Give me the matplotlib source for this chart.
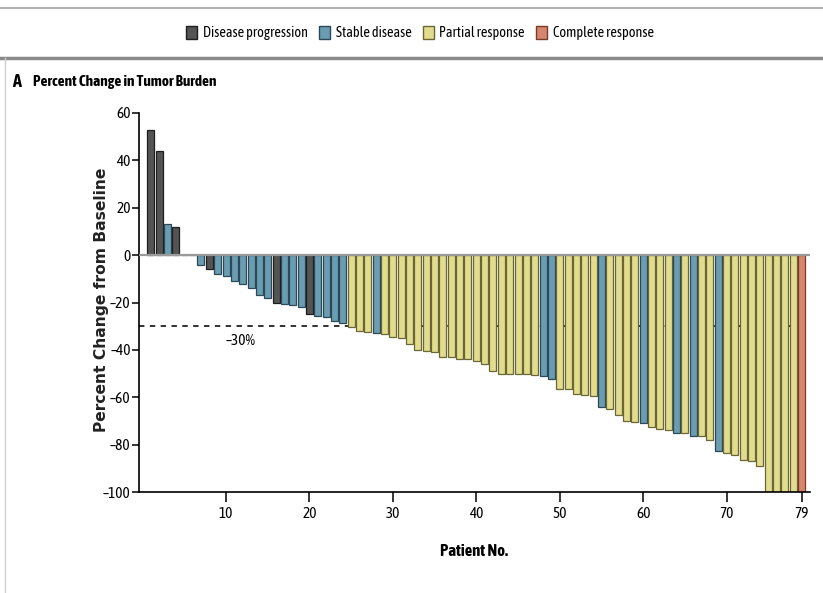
import matplotlib
matplotlib.use("Agg")
import matplotlib.pyplot as plt
from matplotlib.patches import Patch
from matplotlib.lines import Line2D
from matplotlib import font_manager

# pick an upright condensed sans face (prefer one with a bold weight)
def _w(v):
    if isinstance(v, (int, float)):
        return int(v)
    return {"bold": 700, "semibold": 600, "demibold": 600, "heavy": 800, "black": 900,
            "extra bold": 800, "normal": 400, "regular": 400, "medium": 500,
            "light": 300}.get(str(v).lower(), 400)

groups = {}
for f in font_manager.fontManager.ttflist:
    if f.style != "normal":
        continue
    st = f.stretch if isinstance(f.stretch, str) else str(f.stretch)
    byname = "Condensed" in f.name or "Narrow" in f.name
    cond = (byname or
            st in ("condensed", "semi-condensed", "extra-condensed", "ultra-condensed") or
            (st.isdigit() and int(st) < 500))
    if cond:
        key = (f.name, "normal" if byname else st)
        groups.setdefault(key, set()).add(_w(f.weight))

COND = {"family": "Roboto", "stretch": "normal"}
REGW, BOLDW = 400, 700
if groups:
    def score(kv):
        ws = kv[1]
        return (-(any(w >= 600 for w in ws)), -(any(w == 400 for w in ws)), kv[0])
    (name, st), ws = sorted(groups.items(), key=score)[0]
    COND = {"family": name, "stretch": st}
    REGW = min(ws, key=lambda w: abs(w - 400))
    BOLDW = min(ws, key=lambda w: abs(w - 700))

def cf(bold=False, **kw):
    d = dict(COND)
    d["weight"] = BOLDW if bold else REGW
    d.update(kw)
    return d

patients = list(range(1, 80))
change = [53, 44, 13, 12, 0, 0, -4, -6, -8, -9,
          -11, -12, -14, -17, -18, -20, -20.5, -21, -22, -25,
          -25.5, -26, -28, -28.5, -30.5, -32, -32.5, -33, -33.5, -34.5,
          -35, -37.5, -40, -40.3, -41, -43, -43, -44, -44, -44.5,
          -46, -49, -50, -50, -50, -50, -50.5, -51, -52.5, -56.5,
          -56.5, -58.5, -59, -59.5, -64, -65, -67.5, -70, -70.5, -71,
          -72.5, -73.5, -74, -75, -75, -76.5, -76.5, -78, -82.5, -83.5,
          -84.5, -86.5, -87, -89, -100, -100, -100, -100, -100]
response = (["PD", "PD", "SD", "PD", "SD", "SD", "SD", "PD", "SD", "SD",
             "SD", "SD", "SD", "SD", "SD", "PD", "SD", "SD", "SD", "PD",
             "SD", "SD", "SD", "SD", "PR", "PR", "PR", "SD", "PR", "PR",
             "PR", "PR", "PR", "PR", "PR", "PR", "PR", "PR", "PR", "PR",
             "PR", "PR", "PR", "PR", "PR", "PR", "PR", "SD", "SD", "PR",
             "PR", "PR", "PR", "PR", "SD", "PR", "PR", "PR", "PR", "SD",
             "PR", "PR", "PR", "SD", "PR", "SD", "PR", "PR", "SD", "PR",
             "PR", "PR", "PR", "PR", "PR", "PR", "PR", "PR", "CR"])
categories = ["PD", "SD", "PR", "CR"]
legend_labels = ["Disease progression", "Stable disease", "Partial response", "Complete response"]
xtick_vals = [10, 20, 30, 40, 50, 60, 70, 79]
ytick_vals = [60, 40, 20, 0, -20, -40, -60, -80, -100]
threshold = -30

fill = {"PD": "#545454", "SD": "#6a9cb2", "PR": "#e2dc8e", "CR": "#d6866f"}
edge = {"PD": "#1e1e1e", "SD": "#2c4957", "PR": "#6a6636", "CR": "#7a3a2a"}

W, H = 823, 593
fig = plt.figure(figsize=(W / 100, H / 100), dpi=100)
ax = fig.add_axes([139 / W, 1 - 492 / H, (810 - 139) / W, (492 - 113) / H])

ax.axhline(threshold, color="#222222", lw=1.3, ls=(0, (3, 3)), zorder=1)
ax.bar(patients, change, width=0.84,
       color=[fill[r] for r in response], edgecolor=[edge[r] for r in response],
       linewidth=0.9, zorder=2)
ax.axhline(0, color="#9a9a9a", lw=1.6, zorder=3)

ax.set_xlim(-0.43, 80.0)
ax.set_ylim(-100, 60)
for s in ["top", "right"]:
    ax.spines[s].set_visible(False)
ax.spines["left"].set_linewidth(1.2)
ax.spines["bottom"].set_linewidth(1.2)

ax.set_xticks(xtick_vals)
ax.set_xticklabels([str(v) for v in xtick_vals], **cf(fontsize=11))
ax.set_yticks(ytick_vals)
ax.set_yticklabels([str(v).replace("-", "\u2013") for v in ytick_vals], **cf(fontsize=11))
ax.tick_params(axis="x", length=7, width=1.1, pad=4)
ax.tick_params(axis="y", length=5, width=1.1, pad=1)

ax.text(11.7, threshold - 3.3, "\u201330%", ha="center", va="top", **cf(fontsize=11))

ax.set_ylabel("Percent Change from Baseline", family="DejaVu Sans", fontweight="bold",
              fontsize=11.2, color="#222222")
ax.yaxis.set_label_coords(-0.045, 0.507)
ax.set_xlabel("Patient No.", labelpad=16, **cf(bold=True, fontsize=12))

fig.text(12 / W, 1 - 82 / H, "A", va="center", **cf(bold=True, fontsize=13))
fig.text(33 / W, 1 - 82 / H, "Percent Change in Tumor Burden",
         va="center", **cf(bold=True, fontsize=11))

handles = [Patch(facecolor=fill[c], edgecolor=edge[c], linewidth=1) for c in categories]
fig.legend(handles, legend_labels, loc="center", bbox_to_anchor=(420 / W, 1 - 33 / H),
           ncol=4, frameon=False, handlelength=0.75, handleheight=1.1,
           handletextpad=0.4, columnspacing=0.8,
           prop=font_manager.FontProperties(**cf(size=10.3)))

fig.add_artist(Line2D([0, 1], [1 - 8 / H, 1 - 8 / H], transform=fig.transFigure,
                      color="#b0b0b0", lw=1.5))
fig.add_artist(Line2D([0, 1], [1 - 58 / H, 1 - 58 / H], transform=fig.transFigure,
                      color="#8a8a8a", lw=2.5))
fig.add_artist(Line2D([5 / W, 5 / W], [0, 1 - 58 / H], transform=fig.transFigure,
                      color="#cfcfcf", lw=1))

fig.savefig("out.png", dpi=100)
